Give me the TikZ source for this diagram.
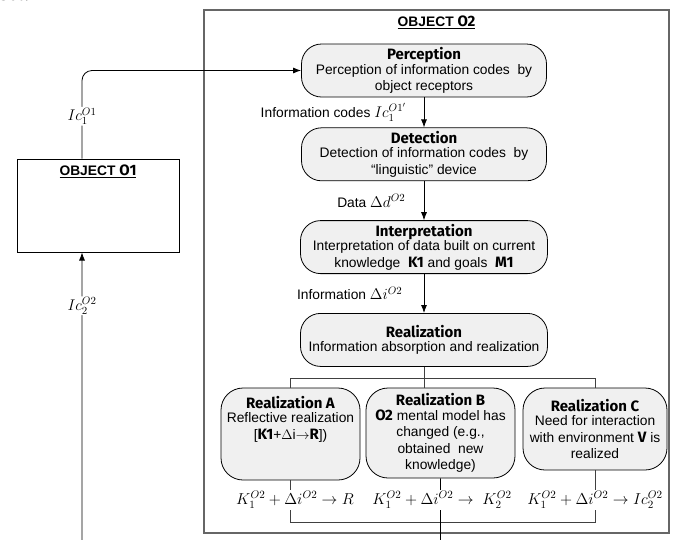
\RequirePackage{fix-cm}
\documentclass[tikz,border=0pt]{standalone}
\usepackage{fontspec}
\setmainfont{Liberation Sans}
\newfontfamily\fancyfont{Fira Sans}
\newfontfamily\cutfont{Liberation Serif}
\usetikzlibrary{arrows.meta,positioning,calc}

\newcommand{\ttl}[1]{{\fancyfont\bfseries\fontsize{15}{16}\selectfont #1}}
\newcommand{\mth}[1]{{\fontsize{15.5}{16}\selectfont$#1$}}

\begin{document}
\begin{tikzpicture}[
    x=1pt, y=-1pt,
    font=\fontsize{13.8}{16.5}\selectfont,
    stage/.style={draw=black, fill=black!6, line width=0.8pt, rounded corners=20pt, align=center, inner sep=2pt, minimum height=53pt},
    result/.style={stage, rounded corners=22pt},
    objbox/.style={draw, line width=1pt},
    arrow/.style={-{Latex[length=8pt,width=6pt]}, line width=0.8pt},
    link/.style={draw=black!75, line width=0.8pt},
    tag/.style={fill=white, inner sep=1pt, font=\fontsize{15.5}{15.5}\selectfont},
    formula/.style={fill=white, inner sep=1pt, font=\fontsize{15.8}{15.8}\selectfont}
]
\useasboundingbox (0,0) rectangle (679,539);

% Objects
\node [font=\fontsize{22}{22}\selectfont\cutfont\itshape, anchor=base west, inner sep=0pt] (cut) at (0,0.5) {set.};
\node [objbox, draw=black!60, line width=1.3pt, minimum width=465pt, minimum height=523pt] (obj2) at (436.5,271.5) {};
\node [below=3pt of obj2.north] (obj2title) {\underline{\textbf{OBJECT }\ttl{O2}}};
\node [objbox, minimum width=162pt, minimum height=93pt] (obj1) at (98,205.5) {};
\node [below=3pt of obj1.north] (obj1title) {\underline{\textbf{OBJECT }\ttl{O1}}};

% Stages
\node [stage, minimum width=245pt] (percep) at (424,70.5) {\ttl{Perception}\\[-2pt] Perception of information codes\ \ by\\ object receptors};
\node [stage, minimum width=245pt, below=30pt of percep] (detect) {\ttl{Detection}\\[-2pt] Detection of information codes\ \ by\\ “linguistic” device};
\node [stage, minimum width=247pt, below=39pt of detect] (interp) {\ttl{Interpretation}\\[-2pt] Interpretation of data built on current\\ knowledge\ \ \ttl{K1} and goals\ \ \ttl{M1}};
\node [stage, minimum width=247pt, below=39pt of interp] (realiz) {\ttl{Realization}\\[-2pt] Information absorption and realization};

\node [result, minimum width=139pt, minimum height=92pt] (realA) at (290.5,434) {\ttl{Realization A}\\[-2pt] Reflective realization\\ {[}\ttl{K1}+$\Delta$i$\rightarrow$\ttl{R}{]})\\ ~\\ ~};
\node [result, minimum width=149pt, minimum height=90pt] (realB) at (440.5,433) {\ttl{Realization B}\\[-2pt] \ttl{O2} mental model has\\ changed (e.g.,\\ obtained\ \ new\\ knowledge)};
\node [result, minimum width=144pt, minimum height=82pt] (realC) at (595,429) {\ttl{Realization C}\\[-2pt] Need for interaction\\ with environment \ttl{V} is\\ realized};

% Transitions
\draw [arrow] (percep) -- (detect) node[midway, left=14pt] {Information codes \mth{Ic_1^{O1'}}};
\draw [arrow] (detect) -- (interp) node[midway, left=15pt] {Data \mth{\Delta d^{O2}}};
\draw [arrow] (interp) -- (realiz) node[midway, left=18pt] {Information \mth{\Delta i^{O2}}};

% Split into the three realizations
\coordinate (split) at (424,378);
\coordinate (join) at (441,522);
\draw [link] (realiz.south) -- (realB.north -| realiz.south);
\draw [link] (realA.north) |- (split) -| (realC.north);
\draw [link] (realA.south) |- (join) -| (realC.south);

% Links between the objects
\draw [arrow, rounded corners=10pt] ([xshift=-16pt]obj1.north) |- (percep.west)
    node[tag, pos=0.24] (ic1) {$Ic_1^{O1}$};
\draw [arrow, rounded corners=8pt] (realB.south) -- (realB.south |- 0,548) -| ([xshift=-16pt]obj1.south)
    node[tag, pos=0.91] (ic2) {$Ic_2^{O2}$};

% Results
\node [formula] (eqA) at (295,500) {$K_1^{O2}+\Delta i^{O2}\rightarrow R$};
\node [formula] (eqB) at (442,500) {$K_1^{O2}+\Delta i^{O2}\rightarrow\ K_2^{O2}$};
\node [formula] (eqC) at (595,500) {$K_1^{O2}+\Delta i^{O2}\rightarrow Ic_2^{O2}$};

\end{tikzpicture}
\end{document}
